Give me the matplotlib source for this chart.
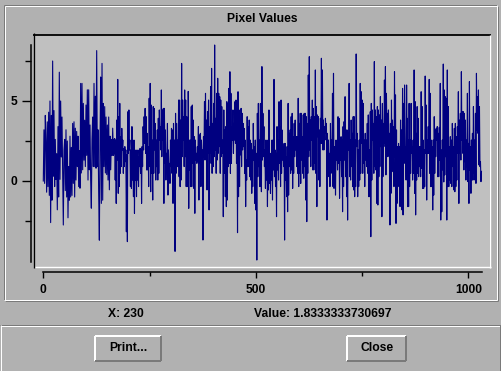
import numpy as np
import matplotlib
matplotlib.use("Agg")
import matplotlib.pyplot as plt
from matplotlib.lines import Line2D
from matplotlib.patches import Rectangle

# pixel values, one block per stretch of the x axis
seg_edges = [0, 168, 341, 512, 684, 856, 1031]
seg1 = [0.0, 3.2, -0.15, 4.1, 2.5, -0.7, 3.7, -0.35, 4.3, -0.9, 5.0, -2.6, 4.1, -1.2, 7.5, 0.3,
        4.4, -0.35, 2.6, 0.1, 1.7, -1.8, 3.4, -1.0, 6.8, 0.1, 5.0, 1.5, 4.0, 0.7, -2.75, 1.9,
        2.6, -0.6, 3.2, -1.0, 2.5, -2.3, 0.9, -1.2, 2.8, -1.0, 2.1, -0.9, 3.6, -0.15, 3.7, -1.0,
        3.3, 0.06, 3.1, 0.9, 2.8, -0.35, 1.9, -0.45, 6.1, 0.5, 6.1, 0.7, 4.85, 1.3, 3.8, 0.9,
        4.75, 1.6, 5.7, 0.06, 5.7, 0.7, 3.5, 0.06, -1.7, 2.6, 4.0, 0.9, 6.1, 0.9, 5.3, 0.8,
        8.15, 0.9, 3.2, -0.75, -3.7, 2.6, 6.5, -1.4, 7.35, -1.2, 4.85, 0.9, 4.65, 0.5, 4.0, 0.4,
        3.5, 0.06, 4.0, -0.55, 2.8, 0.7, 2.6, 1.6, 3.3, 1.6, 2.6, 1.7]
seg2 = [2.65, 0.06, 2.56, -1.4, 3.81, 1.31, 6.35, -0.77, 4.02, -0.35, 4.85, 0.48, 2.77, 0.9,
        3.29, 1.94, 2.56, 0.48, 2.04, 0.9, 2.15, 1.21, 1.94, -3.17, 1.63, -3.79, 4.33, 1.73,
        4.44, 1.94, 2.56, -0.35, 1.94, -0.46, 3.4, 0.06, 0.9, -0.98, 2.56, -2.02, 1.94, 0.06,
        1.83, -0.98, 1.94, 0.06, 1.52, -0.35, 1.94, 0.9, 2.04, 0.48, 1.94, -1.4, 2.15, 0.9,
        3.4, 1.94, 4.02, 2.35, 4.54, 1.73, 4.02, 0.69, 2.98, 0.69, 2.15, -0.35, 5.17, 0.9,
        6.1, -0.67, 4.75, 0.48, 2.56, -1.19, 4.65, 0.48, 4.54, 1.94, 3.6, 0.06, 2.56, 0.9,
        3.19, 0.06, 3.92, 0.48, 4.44, 2.56, 3.4, 1.94, 5.69, 1.52, 4.44, 2.56, 4.54, -1.4,
        4.54, 1.1, 3.19, 0.06, 1.73, 1.1, 3.6, -0.88, 1.94, 0.48, 1.1, -0.15, 2.56, 0.9,
        3.29, 0.48, 3.19, -1.4, 3.6, -1.19, 2.56, -4.4, 4.23, 0.48, 3.6, 0.9, 2.56, 0.9,
        5.06, 0.27, 5.06, -0.35, 3.81, 0.06, 7.35, 1.52, 5.06, 2.56, 4.02, 0.9, 5.69, 1.52,
        5.06, -0.35, 4.02, -0.35, 3.81, 0.06]
seg3 = [5.6, -1.71, 2.56, 0.69, 2.56, -0.35, 4.65, -0.35, 4.75, 1.1, 3.81, -0.46, 2.77, -2.02,
        2.56, 1.31, 1.73, 1.1, 2.15, 1.21, 3.4, -1.19, 2.88, 1.1, 2.98, -0.35, 2.56, 1.73,
        1.94, -3.69, 2.77, 1.52, 4.96, 1.31, 5.48, 1.52, 3.81, -0.56, 4.33, 1.73, 5.06, -1.81,
        3.4, 1.73, 5.9, 1.1, 7.04, 0.48, 3.6, 0.9, 4.85, 1.52, 8.5, 1.94, 3.92, 0.48,
        5.48, 1.31, 6.42, 1.73, 5.48, 2.15, 5.27, 0.48, 5.06, 1.52, 4.65, 1.73, 2.56, -2.23,
        4.44, 0.48, 3.19, -0.98, 3.4, -1.6, 4.96, -1.19, 4.85, 0.9, 5.79, 1.1, 6.83, 0.48,
        5.48, 1.1, 3.4, 2.56, 4.44, 1.73, 3.6, 2.56, 4.96, 2.35, 5.06, 1.1, 3.4, -3.23,
        5.58, -0.98, 4.44, -0.35, 3.4, 1.63, 4.54, 0.9, 4.23, 1.94, 3.6, 2.15, 3.29, 0.48,
        2.56, -1.6, 1.31, 0.06, 4.02, 0.9, 3.4, 0.9, 3.81, 0.27, 2.56, 0.06, 2.35, -0.77,
        1.94, -0.35, 3.6, 1.31, 2.15, -1.4, 2.56, -1.81, 1.73, -4.94, 4.23, 0.27, 4.85, 0.9,
        2.56, -0.35, 4.85, 0.48]
seg4 = [2.56, -0.67, 7.15, 1.31, 4.23, 1.52, 3.4, 0.9, 1.94, -0.46, 2.56, 0.06, 1.52, -1.6,
        2.56, -0.56, 4.44, -0.15, 1.73, -0.77, 1.73, 0.06, 2.56, -1.19, 2.56, 0.69, 6.35, 0.27,
        1.94, -0.35, 1.73, -2.23, 3.4, 0.69, 2.56, 0.06, 4.96, 1.1, 3.4, -0.35, 5.06, 0.48,
        3.19, 1.31, 1.94, 0.9, 2.35, -3.69, 2.35, 0.06, 1.52, -0.98, 2.15, -1.92, 4.85, -0.88,
        2.98, 0.9, 3.19, 0.48, 4.02, 0.69, 4.23, -0.46, 2.77, 0.48, 3.6, 1.52, 3.81, 1.94,
        2.77, 0.9, 2.77, 0.48, 5.17, -0.35, 3.6, 0.48, 4.23, -0.15, 4.23, 1.31, 2.77, 0.48,
        4.13, 0.17, 4.23, 0.9, 4.23, -1.19, 4.02, -2.54, 3.6, 0.48, 6.62, 1.52, 7.77, 1.94,
        3.81, 0.9, 4.02, 2.56, 5.06, 0.69, 4.54, 0.69, 4.02, 1.1, 6.94, 0.48, 4.65, -1.6,
        4.13, 2.77, 4.02, 0.06, 3.19, -0.35, 3.92, 2.35, 7.67, 2.35, 6.94, 1.94, 3.81, 1.94,
        3.4, 2.56, 3.92, 2.98, 3.6, -2.44, 2.98, 0.48, 2.56, 0.27, 1.73, -0.35, 3.6, 0.48,
        2.56, 1.31, 5.48, -0.35, 6.73, -0.46]
seg5 = [2.15, 0.48, 2.15, -0.88, 2.56, 1.31, 2.25, 0.69, 4.02, 1.1, 3.92, -1.08, 2.15, 1.31,
        2.77, 0.27, 2.56, -1.92, 3.4, -0.35, 3.71, 1.31, 5.27, 0.27, 3.19, -0.98, 3.19, -2.44,
        2.98, 1.94, 6.1, 0.27, 2.56, 0.06, 3.81, 0.9, 2.98, -0.35, 4.02, -0.56, 4.02, -0.98,
        2.56, -0.35, 7.94, 2.15, 2.98, -0.98, 1.94, -0.35, 2.56, 0.06, 6.1, 0.48, 5.58, 2.35,
        5.06, 0.48, 4.85, 1.1, 2.56, -0.35, 2.98, 1.31, 2.56, 0.9, 3.6, 0.48, 4.13, -0.98,
        1.94, -0.98, 4.33, -3.48, 4.85, 0.06, 4.44, 2.56, 3.6, 0.48, 7.46, 0.9, 4.44, 0.69,
        4.02, -1.4, 4.65, -1.5, 4.44, 0.27, 4.13, 0.9, 5.27, 2.15, 3.81, -2.23, 4.85, 0.27,
        3.6, 2.15, 6.31, 2.35, 7.15, 0.38, 5.48, 2.56, 4.23, 1.52, 4.44, 2.15, 2.98, -2.75,
        3.6, -0.77, 5.06, 0.58, 3.81, 2.15, 3.4, -0.35, 6.83, 1.52, 5.38, -2.65, 3.19, -1.4,
        2.15, -0.35, 2.35, 0.06, 2.15, -1.6, 3.81, 0.06, 3.19, -1.81, 5.79, -2.12, 4.85, 1.1,
        6.0, 2.15, 2.15, 0.06, 6.0, 2.15]
seg6 = [3.92, -1.6, 2.56, -1.6, 4.85, -0.35, 2.56, 0.48, 4.85, 1.73, 2.15, 0.06, 2.56, 0.48,
        6.94, -0.77, 4.96, -2.12, 2.98, 0.06, 4.65, 0.48, 3.92, 0.27, 2.15, 0.9, 2.15, 0.27,
        5.58, 0.79, 4.65, -0.46, 2.56, -0.46, 1.94, -0.35, 6.56, 1.73, 4.75, -1.19, 2.56, 1.73,
        3.4, 1.73, 6.35, 0.48, 5.48, -0.35, 2.56, -0.35, 2.15, -1.81, 2.56, -0.88, 4.02, 0.48,
        3.19, 1.52, 3.29, 2.56, 3.4, 0.27, 2.98, 0.27, 3.35, 1.31, 6.1, -2.44, 1.94, -1.92,
        2.56, 0.69, 7.31, -0.06, 5.69, 0.38, 5.27, 1.52, 5.17, -2.44, 6.94, -0.35, 4.65, -0.35,
        2.15, 0.06, 2.77, -0.15, 2.56, -0.35, 3.6, 0.9, 2.15, -0.56, 3.29, -0.67, 3.6, -0.35,
        2.77, 0.06, 3.4, 1.73, 5.58, -1.4, 3.81, 1.73, 4.23, 1.31, 6.83, 2.56, 4.33, 1.73,
        4.33, 0.69, 4.23, 1.21, 3.81, 0.06, 2.56, 0.9, 5.48, -0.04, 2.35, -1.4, 6.21, 0.69,
        2.15, -0.77, 2.56, 0.06, 2.98, 0.06, 4.65, 0.48, 2.56, 0.06, 4.23, -0.15, 6.73, 3.19,
        5.27, 2.98, 5.69, 1.0, 4.65, 0.9, 1.21, -0.04, 0.6]
segments = [seg1, seg2, seg3, seg4, seg5, seg6]

x_major = [0, 500, 1000]
x_minor = [250, 750]
y_major = [0, 5]
y_minor = [-2.5, 2.5, 7.5]
y_span = (-5.06, 8.5)
x_span = (0, 1031.5)

title = "Pixel Values"
status_x = "X: 230"
status_value = "Value: 1.8333333730697"
buttons = ["Print...", "Close"]

W, H = 502, 371
BG = "#b1b1b1"
PLOT_BG = "#c0c0c0"
DARK = "#7a7a7a"
LINE = "#000080"
FONT = dict(family="Liberation Sans", weight="bold", size=8.7)

fig = plt.figure(figsize=(W / 100, H / 100), dpi=100, facecolor=BG)

# background canvas in pixel units
bg = fig.add_axes([0, 0, 1, 1])
bg.set_xlim(0, W)
bg.set_ylim(H, 0)
bg.axis("off")


def hline(y, x0, x1, color, lw=1.0):
    bg.add_line(Line2D([x0, x1], [y, y], color=color, lw=lw * 0.72, solid_capstyle="butt"))


def vline(x, y0, y1, color, lw=1.0):
    bg.add_line(Line2D([x, x], [y0, y1], color=color, lw=lw * 0.72, solid_capstyle="butt"))


def bevel(x0, y0, x1, y1, light, dark, lw=1.0):
    hline(y0, x0, x1, light, lw)
    vline(x0, y0, y1, light, lw)
    hline(y1, x0, x1, dark, lw)
    vline(x1, y0, y1, dark, lw)


# upper panel (etched border)
bevel(4.5, 4.5, 497.5, 299.5, DARK, "white")
bevel(5.5, 5.5, 498.5, 300.5, "white", DARK)
bg.text(262, 19.5, title, ha="center", va="center", **FONT)

# sunken plot frame
bg.add_patch(Rectangle((35, 35), 454, 232, facecolor=PLOT_BG, edgecolor="none"))
hline(34.5, 33, 491, "black", 1.8)
vline(34, 33, 268, "black", 1.3)
hline(267, 35, 491, "white", 1.4)
vline(489.7, 35, 268, "white", 1.4)

# status line
bg.text(126, 314, status_x, ha="center", va="center", **FONT)
bg.text(254, 314, status_value, ha="left", va="center", **FONT)

# button bar
hline(324.5, 0, W, DARK)
hline(325.5, 1, W, "white")
vline(1.5, 325, H, "white")
vline(500.5, 325, H, DARK)
for label, (bx0, bx1) in zip(buttons, [(95, 162), (347, 407)]):
    bevel(bx0 + 0.5, 335.5, bx1 - 0.5, 360.5, "white", DARK, 2)
    bg.text((bx0 + bx1) / 2, 348, label, ha="center", va="center", **FONT)

# data axes, mapped so that x=0 -> px 43.3, x=1000 -> px 468.3, y=0 -> px 181, y=5 -> px 101
px0, px1, py0, py1 = 36, 488, 36, 266
ax = fig.add_axes([px0 / W, 1 - py1 / H, (px1 - px0) / W, (py1 - py0) / H])
ax.set_facecolor(PLOT_BG)
ax.set_xlim((px0 - 43.3) / 0.425, (px1 - 43.3) / 0.425)
ax.set_ylim((181 - py1) / 16, (181 - py0) / 16)

xs, ys = [], []
for i, seg in enumerate(segments):
    xs.append(np.linspace(seg_edges[i], seg_edges[i + 1], len(seg)))
    ys.append(np.asarray(seg))
ax.plot(np.concatenate(xs), np.concatenate(ys), color=LINE, lw=0.8)

for side in ["top", "right"]:
    ax.spines[side].set_visible(False)
ax.spines["left"].set_position(("outward", 5 * 0.72))
ax.spines["bottom"].set_position(("outward", 6 * 0.72))
ax.spines["left"].set_bounds(*y_span)
ax.spines["bottom"].set_bounds(*x_span)
for side in ["left", "bottom"]:
    ax.spines[side].set_linewidth(1.1)

ax.set_xticks(x_major)
ax.set_xticks(x_minor, minor=True)
ax.set_yticks(y_major)
ax.set_yticks(y_minor, minor=True)
ax.set_xticklabels([str(v) for v in x_major], fontdict=FONT)
ax.set_yticklabels([str(v) for v in y_major], fontdict=FONT)
ax.tick_params(axis="x", which="major", length=6 * 0.72, width=1, pad=4.5)
ax.tick_params(axis="x", which="minor", length=4 * 0.72, width=1)
ax.tick_params(axis="y", which="major", length=9 * 0.72, width=1, pad=3.5)
ax.tick_params(axis="y", which="minor", length=6 * 0.72, width=1)

fig.savefig("out.png", dpi=100, facecolor=BG)
